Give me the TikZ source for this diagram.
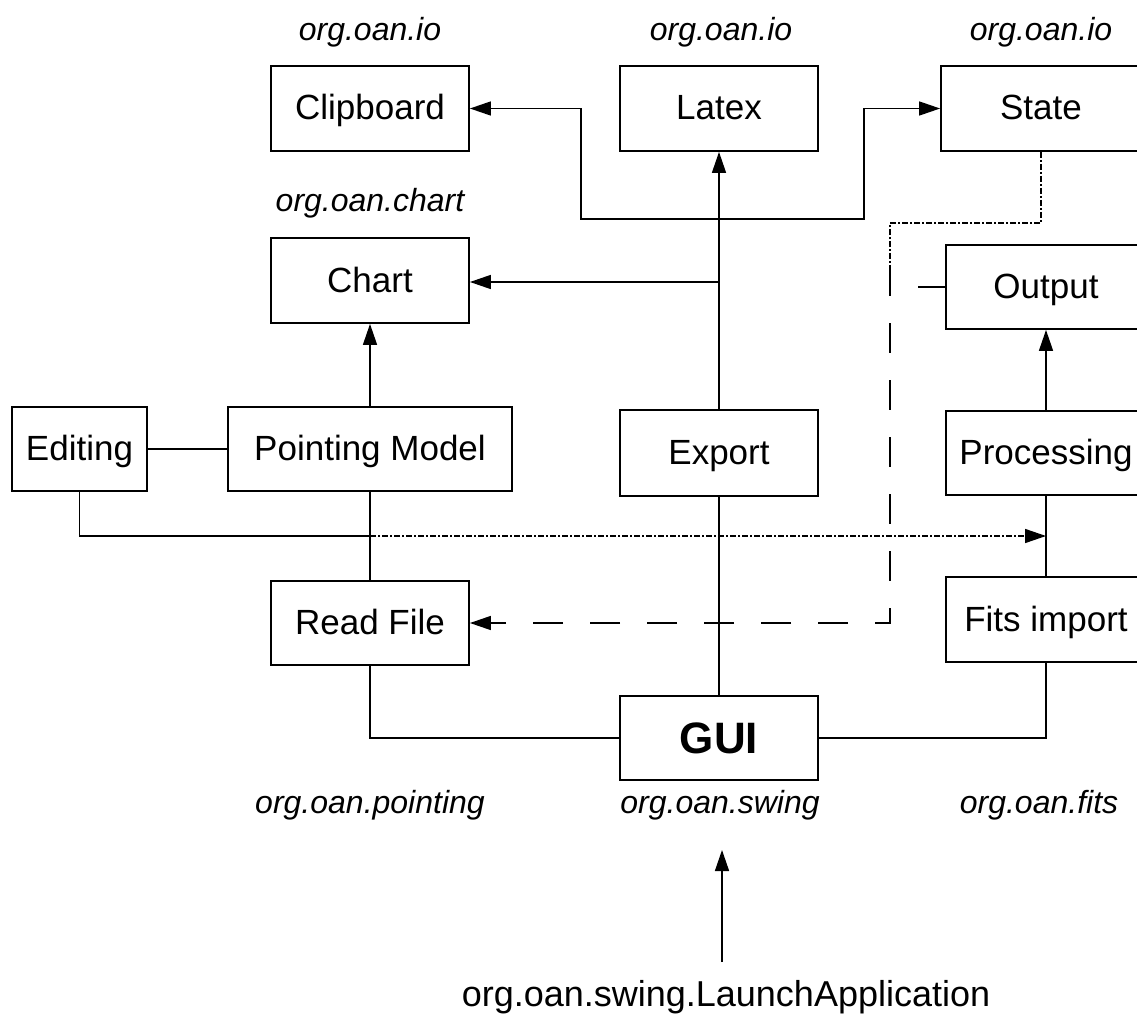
\documentclass[tikz,border=0pt]{standalone}
\usepackage{fontspec}
\setmainfont{Liberation Sans}
\usetikzlibrary{arrows.meta}
\begin{document}
\begin{tikzpicture}[x=1pt,y=-1pt,
  box/.style={draw, line width=1.8pt, minimum height=85pt, inner sep=0pt,
    text height=25.5pt, text depth=2.5pt, font=\fontsize{35}{40}\selectfont},
  pkg/.style={font=\itshape\fontsize{32}{36}\selectfont, inner sep=0pt},
  conn/.style={line width=1.5pt},
  tip/.style={-{Triangle[length=21pt,width=14pt]}},
  arr/.style={conn, tip},
  fine/.style={conn, line width=1.5pt, dash pattern=on 6pt off 2pt on 2pt off 2pt},
  longd/.style={conn, dash pattern=on 30pt off 27pt}]
\useasboundingbox (0,0) rectangle (1137,1019);
\fill[white] (0,0) rectangle (1137,1019);

% package labels
\node[pkg] (lio1) at (370,32) {org.oan.io};
\node[pkg] (lio2) at (721,32) {org.oan.io};
\node[pkg] (lio3) at (1041,32) {org.oan.io};
\node[pkg] (lchart) at (370,203) {org.oan.chart};
\node[pkg] (lpoint) at (370,805) {org.oan.pointing};
\node[pkg] (lswing) at (720,805) {org.oan.swing};
\node[pkg] (lfits) at (1039,805) {org.oan.fits};

% boxes
\node[box, minimum width=198pt] (clip) at (370,108.5) {Clipboard};
\node[box, minimum width=198pt] (latex) at (719,108.5) {Latex};
\node[box, minimum width=200pt] (state) at (1041,108.5) {State};
\node[box, minimum width=198pt] (chart) at (370,280.5) {Chart};
\node[box, minimum width=200pt, minimum height=84pt] (output) at (1046,287) {Output};
\node[box, minimum width=135pt, minimum height=84pt] (edit) at (79.5,449) {Editing};
\node[box, minimum width=284pt, minimum height=84pt] (pm) at (370,449) {Pointing Model};
\node[box, minimum width=198pt, minimum height=86pt] (export) at (719,453) {Export};
\node[box, minimum width=200pt, minimum height=84pt] (proc) at (1046,453) {Processing};
\node[box, minimum width=198pt, minimum height=84pt] (read) at (370,623) {Read File};
\node[box, minimum width=200pt] (fits) at (1046,619.5) {Fits import};
\node[box, minimum width=198pt, minimum height=84pt, text height=32pt, text depth=2pt,
  font=\bfseries\fontsize{44}{50}\selectfont] (gui) at (719,738) {GUI};

\node[inner sep=0pt, font=\fontsize{36}{42}\selectfont] (launch) at (726,997) {org.oan.swing.LaunchApplication};

% coordinates
\coordinate (jc) at (719,219);
\coordinate (c1) at (581,219);
\coordinate (c2) at (864,219);
\coordinate (jch) at (719,282);
\coordinate (os) at (918,287);
\coordinate (ed1) at (370,536);
\coordinate (ed2) at (1046,536);
\coordinate (s1) at (890,266);
\coordinate (la) at (722,850);
\coordinate (lb) at (722,962);

% connectors
\draw[arr] (export.north) -- (latex.south);
\draw[arr] (jc) -- (c1) |- (clip.east);
\draw[arr] (jc) -- (c2) |- (state.west);
\draw[arr] (jch) -- (jch -| chart.east);
\draw[arr] (pm.north) -- (chart.south);
\draw[conn] (edit.east) -- (pm.west);
\draw[conn] (pm.south) -- (read.north);
\draw[conn] (read.south) |- (gui.west);
\draw[conn] (export.south) -- (gui.north);
\draw[conn] (gui.east) -| (fits.south);
\draw[conn] (fits.north) -- (proc.south);
\draw[arr] (proc.north) -- (output.south);
\draw[conn] (output.west) -- (os);
\draw[conn] (edit.south) |- (ed1);
\draw[fine, tip] (ed1) -- (ed2);
\draw[fine] (state.south) -- ++(0,71) -| (s1);
\draw[longd, tip] (s1) |- (read.east);
\draw[arr] (lb) -- (la);
\end{tikzpicture}
\end{document}
